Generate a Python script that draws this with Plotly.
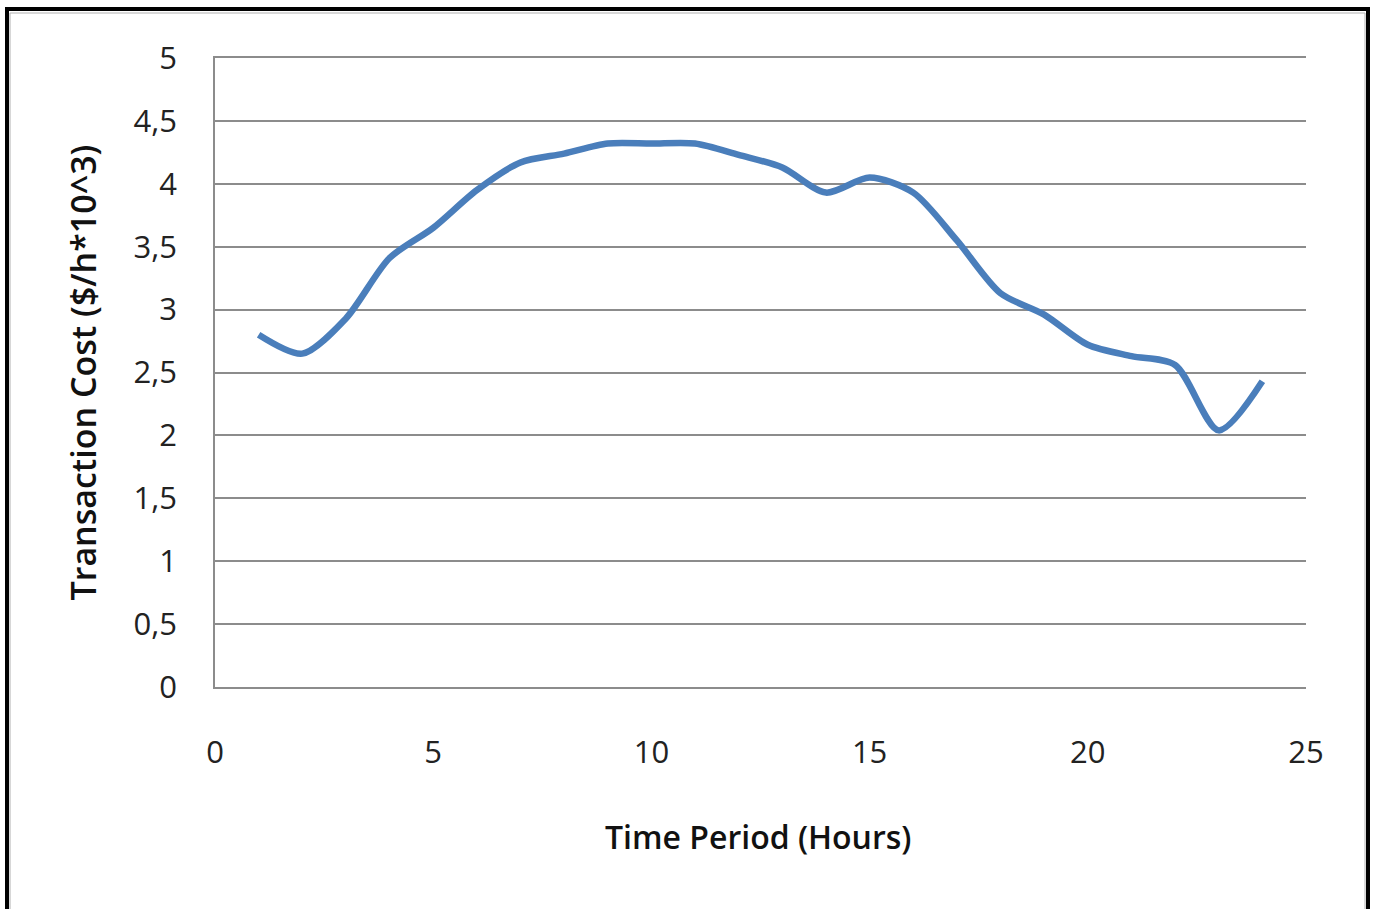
import plotly.graph_objects as go

# Hourly transaction cost over a day
hours = list(range(1, 25))
cost = [2.80, 2.65, 2.93, 3.41, 3.65, 3.95, 4.17, 4.24, 4.32, 4.32, 4.32, 4.23,
        4.13, 3.93, 4.05, 3.93, 3.55, 3.13, 2.96, 2.72, 2.63, 2.56, 2.04, 2.43]

x_ticks = [0, 5, 10, 15, 20, 25]
y_ticks = [0, 0.5, 1, 1.5, 2, 2.5, 3, 3.5, 4, 4.5, 5]

W, H = 1373, 909
L, R, T, B = 215, 67, 58, 222

fig = go.Figure()
fig.add_trace(go.Scatter(
    x=hours, y=cost, mode="lines",
    line=dict(color="#4a7ebb", width=6.5, shape="spline", smoothing=0.8),
    hoverinfo="x+y",
))

tick_font = dict(family="Open Sans, Liberation Sans, sans-serif", size=31, color="#222222")
title_font = dict(family="Open Sans, Liberation Sans, sans-serif", size=32, color="#111111", weight=600)

fig.update_layout(
    width=W, height=H,
    margin=dict(l=L, r=R, t=T, b=B),
    paper_bgcolor="white", plot_bgcolor="white",
    separators=",.",
    showlegend=False,
    xaxis=dict(
        range=[0, 25], tickvals=x_ticks, showgrid=False, zeroline=False,
        # bottom axis line plus its mirror at the top give the 0 and 5 gridlines
        showline=True, mirror=True, linecolor="#8c8c8c", linewidth=1.5,
        ticks="", tickfont=tick_font, ticklabelstandoff=37,
    ),
    yaxis=dict(
        range=[0, 5], tickvals=y_ticks, showgrid=True, gridcolor="#8c8c8c",
        gridwidth=1.5, zeroline=False, showline=True, linecolor="#8c8c8c",
        linewidth=1.5, ticks="", tickfont=tick_font, ticklabelstandoff=30,
    ),
    annotations=[
        dict(text="Time Period (Hours)", xref="paper", yref="paper",
             x=0.498, y=-0.238, xanchor="center", yanchor="middle",
             showarrow=False, font=title_font),
        dict(text="Transaction Cost ($/h*10^3)", xref="paper", yref="paper",
             x=-0.121, y=0.5, xanchor="center", yanchor="middle", textangle=-90,
             showarrow=False, font=dict(title_font, size=34)),
    ],
    shapes=[
        # outer frame
        dict(type="rect", xref="paper", yref="paper",
             x0=-(L - 7) / (W - L - R), x1=1 + (R - 5) / (W - L - R),
             y0=-(B + 20) / (H - T - B), y1=1 + (T - 9) / (H - T - B),
             line=dict(color="black", width=4), fillcolor="rgba(0,0,0,0)", layer="below"),
        dict(type="rect", xref="paper", yref="paper",
             x0=-(L - 10) / (W - L - R), x1=1 + (R - 8) / (W - L - R),
             y0=-(B + 20) / (H - T - B), y1=1 + (T - 13) / (H - T - B),
             line=dict(color="#b0b0b0", width=1), fillcolor="rgba(0,0,0,0)", layer="below"),
    ],
)

fig.write_html("out.html")
